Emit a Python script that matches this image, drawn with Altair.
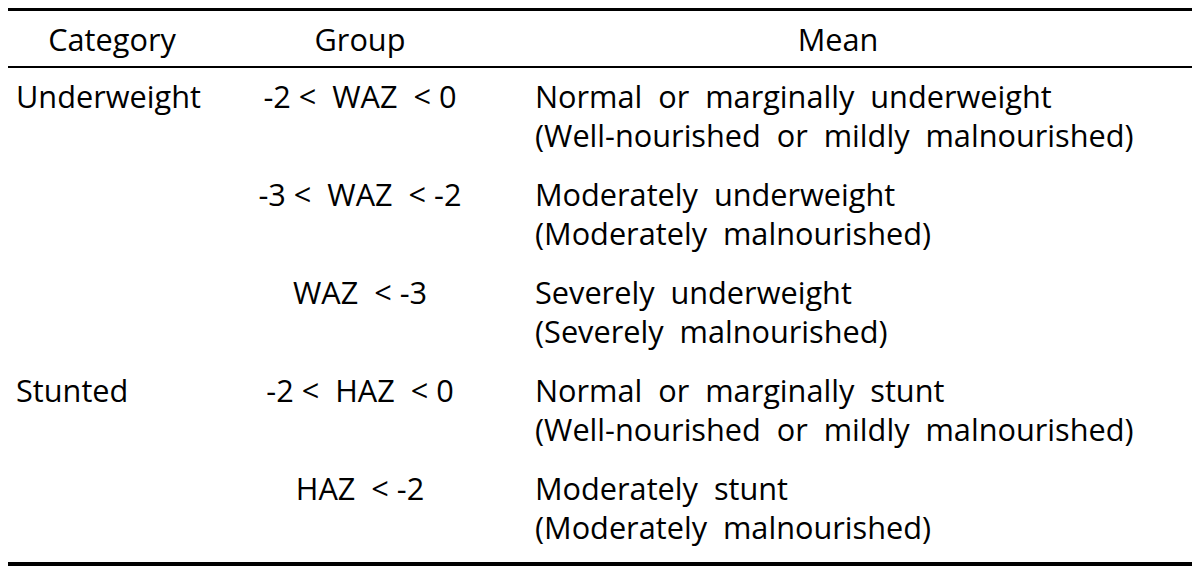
import altair as alt
import pandas as pd

# ---- table content ----
headers = ["Category", "Group", "Mean"]
categories = ["Underweight", "", "", "Stunted", ""]
groups = ["-2 <  WAZ  < 0", "-3 <  WAZ  < -2", "WAZ  < -3", "-2 <  HAZ  < 0", "HAZ  < -2"]
mean_line1 = [
    "Normal  or  marginally  underweight",
    "Moderately  underweight",
    "Severely  underweight",
    "Normal  or  marginally  stunt",
    "Moderately  stunt",
]
mean_line2 = [
    "(Well-nourished  or  mildly  malnourished)",
    "(Moderately  malnourished)",
    "(Severely  malnourished)",
    "(Well-nourished  or  mildly  malnourished)",
    "(Moderately  malnourished)",
]

# ---- layout (chart pixel units) ----
W, H = 1184, 563
FONT = "Open Sans"
FS = 30.7
ROW0 = 100      # baseline of first body line
ROW_STEP = 98
LINE_STEP = 39
HEAD_Y = 43
COL_CAT_LEFT = 8
COL_GRP_CENTER = 352
COL_MEAN_LEFT = 527
HEAD_X = [104, 352, 830]
RULE_X0, RULE_X1 = -2, 1186
RULES = [(1.5, 3), (59, 2), (556, 4)]

def nb(s):
    # keep the wide gaps of the original typesetting
    return s.replace("  ", "\u00a0 ")

def q(field):
    return alt.X(f"{field}:Q", scale=alt.Scale(domain=[0, W]), axis=None)

def qy(field):
    return alt.Y(f"{field}:Q", scale=alt.Scale(domain=[0, H], reverse=True), axis=None)

rows = []
for i in range(len(groups)):
    base = ROW0 + i * ROW_STEP
    rows.append({"kind": "cat", "text": categories[i], "x": COL_CAT_LEFT, "y": base})
    rows.append({"kind": "grp", "text": nb(groups[i]), "x": COL_GRP_CENTER, "y": base})
    rows.append({"kind": "mean", "text": nb(mean_line1[i]), "x": COL_MEAN_LEFT, "y": base})
    rows.append({"kind": "mean", "text": nb(mean_line2[i]), "x": COL_MEAN_LEFT, "y": base + LINE_STEP})
for h, hx in zip(headers, HEAD_X):
    rows.append({"kind": "head", "text": h, "x": hx, "y": HEAD_Y})
df = pd.DataFrame(rows)

rule_df = pd.DataFrame(
    [{"y": y, "x": RULE_X0, "x2": RULE_X1, "w": w} for y, w in RULES]
)

base = alt.Chart(df)
txt = dict(font=FONT, fontSize=FS, color="black", baseline="alphabetic")

left = base.transform_filter(
    "datum.kind == 'cat' || datum.kind == 'mean'"
).mark_text(align="left", **txt).encode(x=q("x"), y=qy("y"), text="text:N")

center = base.transform_filter(
    "datum.kind == 'grp' || datum.kind == 'head'"
).mark_text(align="center", **txt).encode(x=q("x"), y=qy("y"), text="text:N")

rules = alt.Chart(rule_df).mark_rule(color="black").encode(
    x=q("x"), x2="x2:Q", y=qy("y"),
    strokeWidth=alt.StrokeWidth("w:Q", scale=None, legend=None),
)

chart = alt.layer(rules, left, center).properties(
    width=W, height=H, padding=0, autosize=alt.AutoSizeParams(type="none")
).configure_view(stroke=None)

chart.save("out.html", embed_options={"renderer": "svg", "actions": False})
